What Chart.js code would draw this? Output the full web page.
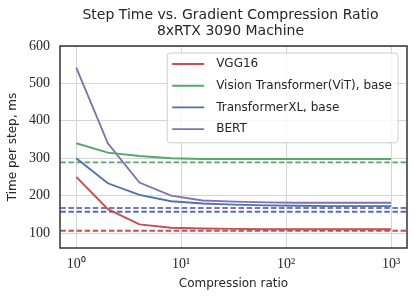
<!DOCTYPE html>
<html>
<head>
<meta charset="utf-8">
<script src="https://cdn.jsdelivr.net/npm/chart.js@4.4.1/dist/chart.umd.min.js"></script>
<style>
  html, body { margin: 0; padding: 0; background: #fff; }
</style>
</head>
<body>
<canvas id="myChart" width="415" height="300"></canvas>
<script>
'use strict';

const titleLines = ['Step Time vs. Gradient Compression Ratio', '8xRTX 3090 Machine'];
const ratios = [1, 2, 4, 8, 16, 32, 64, 128, 256, 512, 1000];
const modelNames = ['VGG16', 'Vision Transformer(ViT), base', 'TransformerXL, base', 'BERT'];
const vgg16 = [250, 164, 123, 114, 112, 111, 110, 110, 110, 110, 110];
const vit = [340, 315, 306, 300, 298, 298, 298, 298, 298, 298, 298];
const transformerXL = [300, 233, 202, 185, 179, 176, 174, 173, 172, 172, 172];
const bert = [542, 340, 235, 200, 187, 184, 182, 181, 181, 181, 181];
const baselines = [106, 289, 157, 167];
const colors = ['#C44E52', '#55A868', '#4C72B0', '#8172B2'];
const xTicks = [1, 10, 100, 1000];
const xTickLabels = ['10⁰', '10¹', '10²', '10³'];
const yTicks = [100, 200, 300, 400, 500, 600];
const xMin = 0.705, xMax = 1419;
const yMin = 60, yMax = 600;

const series = [vgg16, vit, transformerXL, bert];
const textColor = '#262626';

let datasets = [];
series.forEach((vals, i) => {
  datasets.push({
    label: modelNames[i],
    data: ratios.map((r, j) => ({ x: r, y: vals[j] })),
    borderColor: colors[i],
    borderWidth: 1.9,
    pointRadius: 0,
    fill: false
  });
});
baselines.forEach((b, i) => {
  datasets.push({
    label: modelNames[i] + ' baseline',
    data: [{ x: xMin, y: b }, { x: xMax, y: b }],
    borderColor: colors[i],
    borderWidth: 1.9,
    borderDash: [5.5, 2.6],
    pointRadius: 0,
    fill: false
  });
});

// title, frame and boxed legend like matplotlib
const decorPlugin = {
  id: 'decor',
  afterDraw(chart) {
    const ctx = chart.ctx;
    const a = chart.chartArea;
    ctx.save();

    ctx.strokeStyle = '#333333';
    ctx.lineWidth = 1.5;
    ctx.strokeRect(a.left, a.top, a.right - a.left, a.bottom - a.top);

    ctx.fillStyle = textColor;
    ctx.font = '14px "DejaVu Sans"';
    ctx.textAlign = 'center';
    ctx.textBaseline = 'middle';
    const cx = (a.left + a.right) / 2 - 3;
    titleLines.forEach((t, i) => ctx.fillText(t, cx, 15 + i * 16));

    // legend
    ctx.font = '12px "DejaVu Sans"';
    let textW = 0;
    modelNames.forEach(n => { textW = Math.max(textW, ctx.measureText(n).width); });
    const rowH = 21.7;
    const boxW = 5 + 32 + 12 + textW + 6;
    const boxH = rowH * modelNames.length + 3;
    const right = a.right - 9;
    const top = a.top + 7;
    const left = right - boxW;
    ctx.beginPath();
    ctx.roundRect(left, top, boxW, boxH, 3);
    ctx.fillStyle = 'rgba(255,255,255,0.8)';
    ctx.fill();
    ctx.strokeStyle = '#cccccc';
    ctx.lineWidth = 1;
    ctx.stroke();
    ctx.textAlign = 'left';
    modelNames.forEach((n, i) => {
      const y = top + 11 + i * rowH;
      ctx.strokeStyle = colors[i];
      ctx.lineWidth = 1.9;
      ctx.beginPath();
      ctx.moveTo(left + 5, y);
      ctx.lineTo(left + 37, y);
      ctx.stroke();
      ctx.fillStyle = textColor;
      ctx.fillText(n, left + 49, y);
    });
    ctx.restore();
  }
};

const ctx = document.getElementById('myChart').getContext('2d');
const myChart = new Chart(ctx, {
  type: 'line',
  data: { datasets: datasets },
  plugins: [decorPlugin],
  options: {
    responsive: false,
    animation: false,
    layout: { padding: { top: 46, right: 8, left: 0, bottom: 0 } },
    plugins: {
      legend: { display: false },
      title: { display: false },
      tooltip: { enabled: false }
    },
    scales: {
      x: {
        type: 'logarithmic',
        min: xMin,
        max: xMax,
        afterBuildTicks: scale => { scale.ticks = xTicks.map(v => ({ value: v })); },
        afterFit: scale => { scale.height = 52; },
        grid: { color: '#d5d5d5', lineWidth: 1, drawTicks: false },
        border: { display: false },
        ticks: {
          autoSkip: false,
          maxRotation: 0,
          padding: 8,
          color: textColor,
          font: { family: '"Liberation Serif", serif', size: 14 },
          callback: (v) => xTickLabels[xTicks.indexOf(v)]
        },
        title: {
          display: true,
          text: 'Compression ratio',
          color: textColor,
          font: { family: 'DejaVu Sans', size: 12 },
          padding: { top: 0, bottom: 9 }
        }
      },
      y: {
        min: yMin,
        max: yMax,
        afterBuildTicks: scale => { scale.ticks = yTicks.map(v => ({ value: v })); },
        afterFit: scale => { scale.width = 60; },
        grid: { color: '#d5d5d5', lineWidth: 1, drawTicks: false },
        border: { display: false },
        ticks: {
          padding: 10,
          color: textColor,
          font: { family: '"Liberation Serif", serif', size: 14 }
        },
        title: {
          display: true,
          text: 'Time per step, ms',
          color: textColor,
          font: { family: 'DejaVu Sans', size: 12 },
          padding: { top: 6, bottom: 0 }
        }
      }
    }
  }
});
</script>
</body>
</html>
